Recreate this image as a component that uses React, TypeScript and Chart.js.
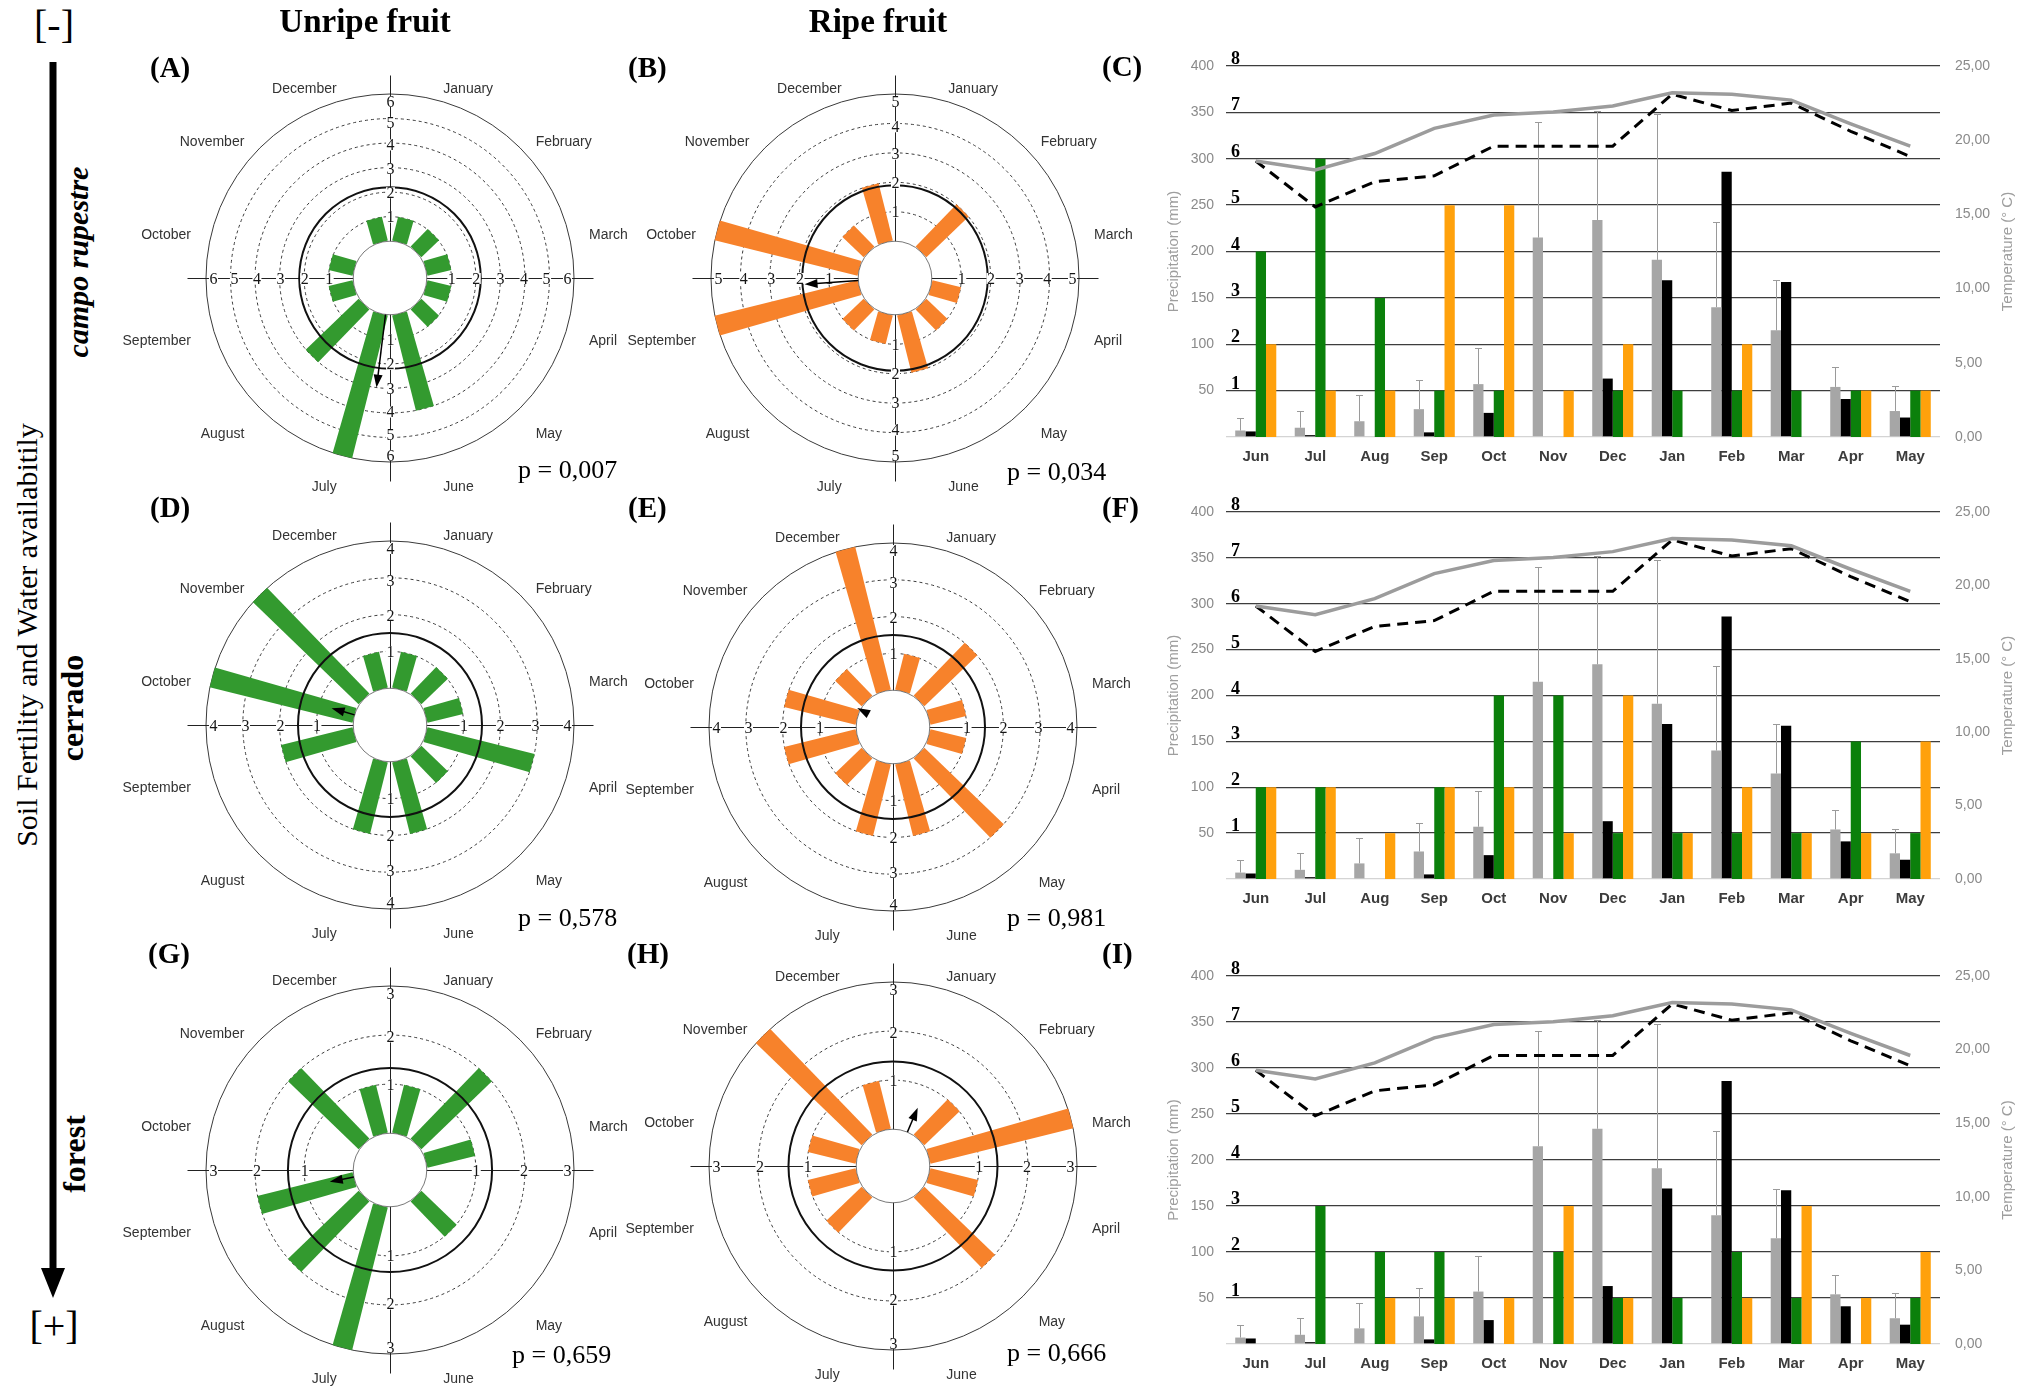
import React, { useEffect, useRef } from 'react';
import { Chart, registerables } from 'chart.js';

Chart.register(...registerables);

// ---------------- data ----------------
const BAR_MONTHS = ['Jun', 'Jul', 'Aug', 'Sep', 'Oct', 'Nov', 'Dec', 'Jan', 'Feb', 'Mar', 'Apr', 'May'];
const ROSE_MONTHS = ['January', 'February', 'March', 'April', 'May', 'June', 'July', 'August', 'September', 'October', 'November', 'December'];

const precipMean = [7, 10, 17, 30, 57, 215, 234, 191, 140, 115, 54, 28];
const precipSd = [14, 18, 28, 31, 39, 125, 118, 157, 92, 54, 21, 27];
const precipOther = [6, 2, 0, 5, 26, 0, 63, 169, 286, 167, 41, 21];
const tempGray = [18.6, 18.0, 19.1, 20.8, 21.7, 21.9, 22.3, 23.2, 23.1, 22.7, 21.1, 19.6];
const tempDashed = [18.6, 15.5, 17.2, 17.6, 19.6, 19.6, 19.6, 23.1, 22.0, 22.5, 20.6, 18.9];

const unripeCampo = [4, 6, 3, 1, 1, 0, 1, 1, 1, 1, 1, 1];
const ripeCampo = [2, 1, 1, 5, 5, 1, 2, 0, 2, 0, 1, 1];
const unripeCerrado = [2, 2, 0, 2, 4, 4, 1, 1, 1, 1, 3, 1];
const ripeCerrado = [2, 2, 1, 2, 2, 1, 4, 1, 2, 1, 1, 3];
const unripeForest = [0, 3, 2, 2, 0, 2, 1, 1, 2, 1, 0, 1];
const ripeForest = [0, 0, 1, 1, 1, 3, 1, 0, 1, 3, 1, 2];

const SCORE_LEVELS = [1, 2, 3, 4, 5, 6, 7, 8];

// rose panels A, B, D, E, G, H
const roseMaxTick = [6, 5, 4, 4, 3, 3];
const ringValue = [2.2, 1.9, 1.5, 1.5, 1.33, 1.38];
const meanAngle = [187, 266, 286, 298, 259, 23];
const meanLength = [3.0, 1.83, 0.65, 0.1, 0.5, 0.54];
const pValues = ['0,007', '0,034', '0,578', '0,981', '0,659', '0,666'];

const toRose = (arr: number[]) => ROSE_MONTHS.map((m) => arr[BAR_MONTHS.indexOf(m.slice(0, 3))]);

const SERIF = '"Liberation Serif", "Times New Roman", serif';
const SANS = '"Liberation Sans", Arial, sans-serif';

const ROSE_GREEN = '#339a2f';
const ROSE_ORANGE = '#f7822b';

// ---------------- rose diagram ----------------
function Rose({ values, maxTick, ring, angle, length, color, cx, cy }: any) {
  const ref = useRef<HTMLCanvasElement>(null);
  const W = 560;
  const H = 520;
  useEffect(() => {
    const min = -maxTick / 4;
    const plugin = {
      id: 'roseMarks',
      beforeDatasetsDraw(chart: any) {
        const s = chart.scales.r;
        const ctx = chart.ctx;
        const x0 = s.xCenter + 0.5;
        const y0 = s.yCenter + 0.5;
        const ext = s.drawingArea + 19;
        ctx.save();
        ctx.strokeStyle = '#222';
        ctx.lineWidth = 1;
        ctx.beginPath();
        ctx.moveTo(x0 - ext, y0);
        ctx.lineTo(x0 + ext, y0);
        ctx.moveTo(x0, y0 - ext);
        ctx.lineTo(x0, y0 + ext);
        ctx.stroke();
        ctx.restore();
      },
      afterDatasetsDraw(chart: any) {
        const s = chart.scales.r;
        const ctx = chart.ctx;
        const x0 = s.xCenter;
        const y0 = s.yCenter;
        const r0 = s.getDistanceFromCenterForValue(0);
        const meta = chart.getDatasetMeta(0);
        ctx.save();
        // bars (rectangular spokes from the arc geometry)
        ctx.fillStyle = color;
        meta.data.forEach((arc: any) => {
          const rOut = arc.outerRadius;
          if (rOut - r0 < 0.5) return;
          const a = (arc.startAngle + arc.endAngle) / 2;
          const ux = Math.cos(a);
          const uy = Math.sin(a);
          const px = -uy;
          const py = ux;
          const w0 = 7 + 0.017 * r0;
          const w1 = 7 + 0.017 * rOut;
          ctx.beginPath();
          ctx.moveTo(arc.x + ux * r0 + px * w0, arc.y + uy * r0 + py * w0);
          ctx.lineTo(arc.x + ux * rOut + px * w1, arc.y + uy * rOut + py * w1);
          ctx.lineTo(arc.x + ux * rOut - px * w1, arc.y + uy * rOut - py * w1);
          ctx.lineTo(arc.x + ux * r0 - px * w0, arc.y + uy * r0 - py * w0);
          ctx.closePath();
          ctx.fill();
        });
        // reference ring
        ctx.strokeStyle = '#111';
        ctx.lineWidth = 2;
        ctx.beginPath();
        ctx.arc(x0, y0, s.getDistanceFromCenterForValue(ring), 0, Math.PI * 2);
        ctx.stroke();
        // centre hole
        ctx.fillStyle = '#fff';
        ctx.beginPath();
        ctx.arc(x0, y0, r0, 0, Math.PI * 2);
        ctx.fill();
        ctx.strokeStyle = '#555';
        ctx.lineWidth = 0.8;
        ctx.stroke();
        // axis tick labels
        ctx.font = '16px ' + SERIF;
        ctx.textAlign = 'center';
        ctx.textBaseline = 'middle';
        for (let v = 1; v <= maxTick; v++) {
          const rr = s.getDistanceFromCenterForValue(v) - 7 * Math.pow(v / maxTick, 4);
          const pts = [[rr, 0], [-rr, 0], [0, rr], [0, -rr]];
          const txt = String(v);
          const w = ctx.measureText(txt).width;
          pts.forEach(([dx, dy]) => {
            const tx = x0 + dx + 0.5;
            const ty = y0 + dy + 0.5;
            ctx.fillStyle = '#fff';
            ctx.fillRect(tx - w / 2 - 0.5, ty - 5.5, w + 1, 11);
            ctx.fillStyle = '#151515';
            ctx.fillText(txt, tx, ty + 1);
          });
        }
        // month labels
        ctx.font = '14px ' + SANS;
        ctx.fillStyle = '#333';
        ctx.textBaseline = 'middle';
        chart.data.labels.forEach((lab: string, i: number) => {
          const arc = meta.data[i];
          const a = (arc.startAngle + arc.endAngle) / 2;
          const lx = x0 + 206 * Math.cos(a);
          const ly = y0 + 10 + 206 * Math.sin(a);
          ctx.textAlign = Math.cos(a) >= 0 ? 'left' : 'right';
          ctx.fillText(lab, lx, ly);
        });
        // mean vector arrow
        const aa = ((angle - 90) * Math.PI) / 180;
        const ux = Math.cos(aa);
        const uy = Math.sin(aa);
        const px = -uy;
        const py = ux;
        const rt = s.getDistanceFromCenterForValue(length);
        const hl = 13;
        const hw = 4.5;
        ctx.strokeStyle = '#000';
        ctx.fillStyle = '#000';
        ctx.lineWidth = 1.5;
        if (rt - hl > r0) {
          ctx.beginPath();
          ctx.moveTo(x0 + ux * r0, y0 + uy * r0);
          ctx.lineTo(x0 + ux * (rt - hl + 1), y0 + uy * (rt - hl + 1));
          ctx.stroke();
        }
        ctx.beginPath();
        ctx.moveTo(x0 + ux * rt, y0 + uy * rt);
        ctx.lineTo(x0 + ux * (rt - hl) + px * hw, y0 + uy * (rt - hl) + py * hw);
        ctx.lineTo(x0 + ux * (rt - hl) - px * hw, y0 + uy * (rt - hl) - py * hw);
        ctx.closePath();
        ctx.fill();
        ctx.restore();
      },
    };
    const chart = new Chart(ref.current as HTMLCanvasElement, {
      type: 'polarArea',
      data: {
        labels: ROSE_MONTHS,
        datasets: [{ data: values, backgroundColor: 'rgba(0,0,0,0)', borderWidth: 0 }],
      },
      options: {
        responsive: false,
        animation: false,
        events: [],
        layout: { padding: { left: 96, right: 96, top: 76, bottom: 76 } },
        plugins: { legend: { display: false }, tooltip: { enabled: false } },
        scales: {
          r: {
            min,
            max: maxTick,
            startAngle: 0,
            ticks: { display: false, stepSize: 1 },
            pointLabels: { display: false },
            angleLines: { display: false },
            grid: {
              circular: true,
              lineWidth: 1,
              color: (c: any) => {
                const v = c.tick ? c.tick.value : NaN;
                return v >= 1 && Number.isInteger(v) ? '#3a3a3a' : 'rgba(0,0,0,0)';
              },
            },
            border: { dash: (c: any) => (c.tick && c.tick.value === maxTick ? [] : [3, 3]) },
          },
        },
      } as any,
      plugins: [plugin],
    });
    return () => chart.destroy();
  }, []);
  return (
    <canvas
      ref={ref}
      width={W}
      height={H}
      style={{ position: 'absolute', left: cx - W / 2, top: cy - H / 2, width: W, height: H }}
    />
  );
}

// ---------------- climate bar chart ----------------
function Climate({ green, orange, plotTop, plotBottom }: any) {
  const ref = useRef<HTMLCanvasElement>(null);
  const left = 1160;
  const W = 865;
  const leftAxisW = 66;
  const rightAxisW = 85;
  const padTop = 26;
  const xAxisH = 34;
  const H = padTop + (plotBottom - plotTop) + xAxisH;
  useEffect(() => {
    const plugin = {
      id: 'climateExtras',
      afterDatasetDraw(chart: any, args: any) {
        if (args.index !== 2) return;
        const ctx = chart.ctx;
        const ys = chart.scales.y;
        ctx.save();
        ctx.strokeStyle = '#9a9a9a';
        ctx.lineWidth = 1;
        args.meta.data.forEach((bar: any, i: number) => {
          const yTop = Math.round(ys.getPixelForValue(precipMean[i] + precipSd[i])) + 0.5;
          const x = Math.round(bar.x) + 0.5;
          ctx.beginPath();
          ctx.moveTo(x, bar.y);
          ctx.lineTo(x, yTop);
          ctx.moveTo(x - 3.5, yTop);
          ctx.lineTo(x + 3.5, yTop);
          ctx.stroke();
        });
        ctx.restore();
      },
      afterDraw(chart: any) {
        const ctx = chart.ctx;
        const area = chart.chartArea;
        const ss = chart.scales.ys;
        ctx.save();
        ctx.fillStyle = '#000';
        ctx.font = 'bold 18px ' + SERIF;
        ctx.textAlign = 'left';
        ctx.textBaseline = 'alphabetic';
        SCORE_LEVELS.forEach((v) => {
          ctx.fillText(String(v), area.left + 5, ss.getPixelForValue(v) - 2);
        });
        const mid = (area.top + area.bottom) / 2;
        ctx.font = '15px ' + SANS;
        ctx.fillStyle = '#9e9e9e';
        ctx.textAlign = 'center';
        ctx.textBaseline = 'middle';
        ctx.translate(area.left - 52, mid);
        ctx.rotate(-Math.PI / 2);
        ctx.fillText('Precipitation (mm)', 0, 0);
        ctx.setTransform(1, 0, 0, 1, 0, 0);
        ctx.translate(area.right + 68, mid);
        ctx.rotate(-Math.PI / 2);
        ctx.fillText('Temperature (° C)', 0, 0);
        ctx.restore();
      },
    };
    const tickFont = { family: SANS, size: 14 };
    const chart = new Chart(ref.current as HTMLCanvasElement, {
      type: 'bar',
      data: {
        labels: BAR_MONTHS,
        datasets: [
          { type: 'line', data: tempGray, yAxisID: 'y2', borderColor: '#9c9c9c', borderWidth: 3.5, pointRadius: 0, order: 0 },
          { type: 'line', data: tempDashed, yAxisID: 'y2', borderColor: '#000', borderWidth: 3, borderDash: [11, 7], pointRadius: 0, order: 0 },
          { data: precipMean, backgroundColor: '#a6a6a6', yAxisID: 'y', order: 1 },
          { data: precipOther, backgroundColor: '#000000', yAxisID: 'y', order: 1 },
          { data: green, backgroundColor: '#0b800b', yAxisID: 'ys', order: 1 },
          { data: orange, backgroundColor: '#ffa10c', yAxisID: 'ys', order: 1 },
        ],
      } as any,
      options: {
        responsive: false,
        animation: false,
        events: [],
        layout: { padding: { top: padTop, left: 0, right: 0, bottom: 0 } },
        datasets: { bar: { categoryPercentage: 0.69, barPercentage: 1 } },
        plugins: { legend: { display: false }, tooltip: { enabled: false } },
        scales: {
          x: {
            grid: { display: false },
            border: { display: false },
            ticks: { font: { family: SANS, size: 15, weight: 'bold' }, color: '#3c3c3c', padding: 3 },
            afterFit: (s: any) => { s.height = xAxisH; },
          },
          y: {
            position: 'left',
            min: 0,
            max: 400,
            ticks: { stepSize: 50, font: tickFont, color: '#8a8a8a', padding: 12, callback: (v: any) => (v === 0 ? '' : String(v)) },
            grid: {
              color: (c: any) => (c.tick && c.tick.value === 0 ? '#d4d4d4' : '#3d3d3d'),
              lineWidth: 1.3,
              drawTicks: false,
            },
            border: { display: false },
            afterFit: (s: any) => { s.width = leftAxisW; },
          },
          y2: {
            position: 'right',
            min: 0,
            max: 25,
            ticks: { stepSize: 5, font: tickFont, color: '#8a8a8a', padding: 15, callback: (v: any) => Number(v).toFixed(2).replace('.', ',') },
            grid: { display: false, drawTicks: false },
            border: { display: false },
            afterFit: (s: any) => { s.width = rightAxisW; },
          },
          ys: { display: false, min: 0, max: 8 },
        },
      } as any,
      plugins: [plugin],
    });
    return () => chart.destroy();
  }, []);
  return (
    <canvas
      ref={ref}
      width={W}
      height={H}
      style={{ position: 'absolute', left, top: plotTop - padTop, width: W, height: H }}
    />
  );
}

// ---------------- text helper ----------------
function T({ x, y, children, center, rotate, style }: any) {
  return (
    <div
      style={{
        position: 'absolute',
        left: x,
        top: y,
        whiteSpace: 'nowrap',
        lineHeight: 1,
        transform: `translate(${center ? '-50%' : '0'}, -50%)${rotate ? ` rotate(${rotate}deg)` : ''}`,
        fontFamily: SERIF,
        color: '#000',
        ...style,
      }}
    >
      {children}
    </div>
  );
}

const ROSE_POS = [
  [390, 278],
  [895, 278],
  [390, 725],
  [893, 727],
  [390, 1170],
  [893, 1166],
];
const ROSE_SERIES = [
  [unripeCampo, ROSE_GREEN],
  [ripeCampo, ROSE_ORANGE],
  [unripeCerrado, ROSE_GREEN],
  [ripeCerrado, ROSE_ORANGE],
  [unripeForest, ROSE_GREEN],
  [ripeForest, ROSE_ORANGE],
];
const P_POS = [
  [518, 470],
  [1007, 472],
  [518, 918],
  [1007, 918],
  [512, 1355],
  [1007, 1353],
];
const LETTERS = [
  ['(A)', 150, 67],
  ['(B)', 628, 67],
  ['(C)', 1102, 66],
  ['(D)', 150, 507],
  ['(E)', 628, 507],
  ['(F)', 1102, 507],
  ['(G)', 148, 953],
  ['(H)', 627, 953],
  ['(I)', 1102, 953],
];

export default function App() {
  return (
    <div
      style={{
        position: 'absolute',
        left: 0,
        top: 0,
        width: 2033,
        height: 1386,
        background: '#fff',
        overflow: 'hidden',
      }}
    >
      {ROSE_SERIES.map(([series, color]: any, i) => (
        <Rose
          key={i}
          values={toRose(series)}
          maxTick={roseMaxTick[i]}
          ring={ringValue[i]}
          angle={meanAngle[i]}
          length={meanLength[i]}
          color={color}
          cx={ROSE_POS[i][0]}
          cy={ROSE_POS[i][1]}
        />
      ))}
      <Climate green={unripeCampo} orange={ripeCampo} plotTop={66} plotBottom={437} />
      <Climate green={unripeCerrado} orange={ripeCerrado} plotTop={512} plotBottom={879} />
      <Climate green={unripeForest} orange={ripeForest} plotTop={976} plotBottom={1344} />

      <svg width={80} height={1386} style={{ position: 'absolute', left: 0, top: 0 }}>
        <line x1={53} y1={62} x2={53} y2={1274} stroke="#000" strokeWidth={7} />
        <polygon points="41,1268 65,1268 53,1298" fill="#000" />
      </svg>

      <T x={365} y={21} center style={{ fontSize: 33, fontWeight: 'bold' }}>Unripe fruit</T>
      <T x={878} y={21} center style={{ fontSize: 33, fontWeight: 'bold' }}>Ripe fruit</T>
      <T x={54} y={25} center style={{ fontSize: 40 }}>[-]</T>
      <T x={54} y={1326} center style={{ fontSize: 40 }}>[+]</T>
      <T x={27} y={635} center rotate={-90} style={{ fontSize: 30 }}>Soil Fertility and Water availabitily</T>
      <T x={78} y={262} center rotate={-90} style={{ fontSize: 30, fontWeight: 'bold', fontStyle: 'italic' }}>campo rupestre</T>
      <T x={72} y={708} center rotate={-90} style={{ fontSize: 32, fontWeight: 'bold' }}>cerrado</T>
      <T x={74} y={1154} center rotate={-90} style={{ fontSize: 32, fontWeight: 'bold' }}>forest</T>

      {LETTERS.map(([t, x, y]: any) => (
        <T key={t} x={x} y={y} style={{ fontSize: 29, fontWeight: 'bold' }}>{t}</T>
      ))}
      {pValues.map((p, i) => (
        <T key={i} x={P_POS[i][0]} y={P_POS[i][1]} style={{ fontSize: 26 }}>{'p = ' + p}</T>
      ))}
    </div>
  );
}
